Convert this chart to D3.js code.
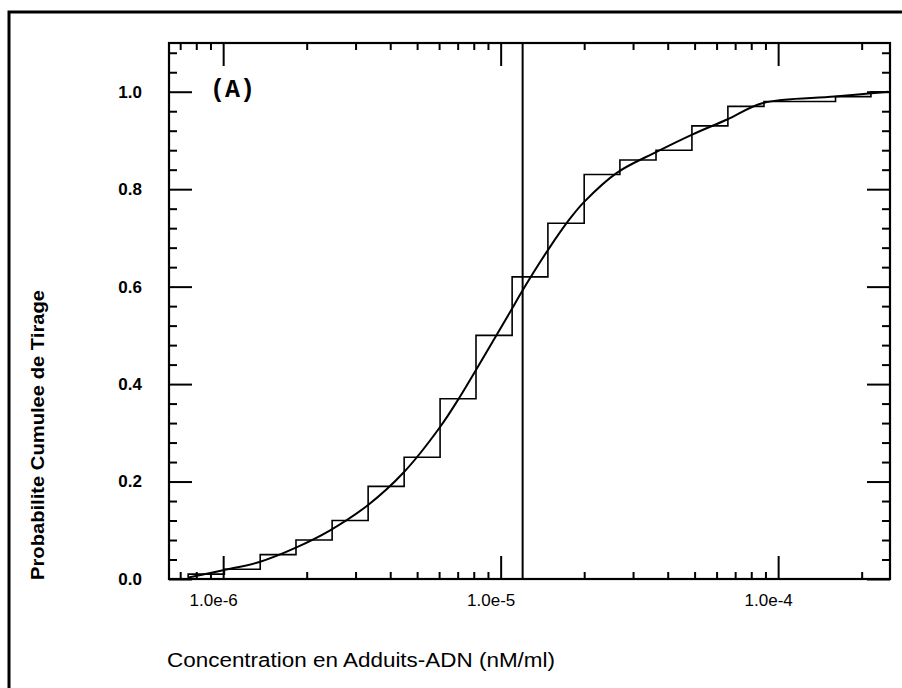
<!DOCTYPE html>
<html>
<head>
<meta charset="utf-8">
<script src="https://cdn.jsdelivr.net/npm/d3@7/dist/d3.min.js"></script>
<style>
  html, body { margin: 0; padding: 0; background: #fff; }
  svg { display: block; }
</style>
</head>
<body>
<svg id="chart" width="902" height="688"></svg>
<script>
// ---- Data ----
// Empirical cumulative distribution: step edges (concentration) and cumulative probability after each edge
const stepEdges  = [7.48e-7, 1.01e-6, 1.36e-6, 1.83e-6, 2.47e-6, 3.33e-6, 4.49e-6, 6.05e-6, 8.15e-6,
                    1.10e-5, 1.48e-5, 2.00e-5, 2.69e-5, 3.63e-5, 4.89e-5, 6.59e-5, 8.89e-5, 1.61e-4, 2.16e-4];
const stepValues = [0.01, 0.02, 0.05, 0.08, 0.12, 0.19, 0.25, 0.37, 0.50,
                    0.62, 0.73, 0.83, 0.86, 0.88, 0.93, 0.97, 0.98, 0.99, 1.00];
// Fitted smooth cumulative curve
const curveX = [7.5e-7, 1.0e-6, 1.35e-6, 1.82e-6, 2.43e-6, 3.33e-6, 4.46e-6, 6.05e-6, 7.15e-6, 8.09e-6,
                1.10e-5, 1.17e-5, 1.48e-5, 1.78e-5, 2.0e-5, 2.63e-5, 3.66e-5, 4.90e-5, 6.55e-5, 8.83e-5,
                1.60e-4, 2.49e-4];
const curveY = [0.003, 0.018, 0.035, 0.064, 0.10, 0.152, 0.218, 0.312, 0.375, 0.426,
                0.555, 0.582, 0.675, 0.740, 0.774, 0.834, 0.877, 0.912, 0.943, 0.977,
                0.99, 1.0];
// Vertical reference line (concentration)
const refLineX = [1.2e-5];
// Axes
const xDomain = [6.38e-7, 2.53e-4];
const yDomain = [0, 1.1];
const xMajorTicks = [1e-6, 1e-5, 1e-4];
const xMinorTicks = [7e-7, 8e-7, 9e-7, 2e-6, 3e-6, 4e-6, 5e-6, 6e-6, 7e-6, 8e-6, 9e-6,
                     2e-5, 3e-5, 4e-5, 5e-5, 6e-5, 7e-5, 8e-5, 9e-5, 2e-4];
const yMajorTicks = [0.0, 0.2, 0.4, 0.6, 0.8, 1.0];
const yMinorTicks = [0.04, 0.08, 0.12, 0.16, 0.24, 0.28, 0.32, 0.36, 0.44, 0.48, 0.52, 0.56,
                     0.64, 0.68, 0.72, 0.76, 0.84, 0.88, 0.92, 0.96, 1.04, 1.08];
const panelLabel = "(A)";
const xTitle = "Concentration en Adduits-ADN  (nM/ml)";
const yTitle = "Probabilite Cumulee de Tirage";

// ---- Layout ----
const plot = { left: 169, right: 890, top: 43, bottom: 579 };
const svg = d3.select("#chart");

const x = d3.scaleLog().domain(xDomain).range([plot.left, plot.right]);
const y = d3.scaleLinear().domain(yDomain).range([plot.bottom, plot.top]);

// Outer figure border (scan frame)
svg.append("rect")
  .attr("x", 9).attr("y", 12)
  .attr("width", 1000).attr("height", 1000)
  .attr("fill", "none").attr("stroke", "#000").attr("stroke-width", 3);

const fmtX = d => "1.0e" + Math.round(Math.log10(d));
const fmtY = d3.format(".1f");

function styleAxis(g) {
  g.select(".domain").remove();
  g.selectAll("line").attr("stroke", "#000").attr("stroke-width", 2);
}

// Bottom axis
svg.append("g").attr("transform", `translate(0,${plot.bottom})`)
  .call(d3.axisBottom(x).tickValues(xMinorTicks).tickSize(-7).tickFormat(""))
  .call(styleAxis);
const xMaj = svg.append("g").attr("transform", `translate(0,${plot.bottom})`)
  .call(d3.axisBottom(x).tickValues(xMajorTicks).tickSize(-23).tickPadding(15).tickFormat(fmtX))
  .call(styleAxis);
xMaj.selectAll("text")
  .attr("dx", -10)
  .attr("font-family", "'Liberation Sans', Arial, sans-serif")
  .attr("font-size", 17).attr("fill", "#000");

// Top axis
svg.append("g").attr("transform", `translate(0,${plot.top})`)
  .call(d3.axisTop(x).tickValues(xMinorTicks).tickSize(-7).tickFormat(""))
  .call(styleAxis);
svg.append("g").attr("transform", `translate(0,${plot.top})`)
  .call(d3.axisTop(x).tickValues(xMajorTicks).tickSize(-23).tickFormat(""))
  .call(styleAxis);

// Left axis
svg.append("g").attr("transform", `translate(${plot.left},0)`)
  .call(d3.axisLeft(y).tickValues(yMinorTicks).tickSize(-8).tickFormat(""))
  .call(styleAxis);
const yMaj = svg.append("g").attr("transform", `translate(${plot.left},0)`)
  .call(d3.axisLeft(y).tickValues(yMajorTicks).tickSize(-23).tickPadding(27).tickFormat(fmtY))
  .call(styleAxis);
yMaj.selectAll("text")
  .attr("font-family", "'Liberation Sans', Arial, sans-serif")
  .attr("font-weight", "bold")
  .attr("font-size", 17).attr("fill", "#000");

// Right axis
svg.append("g").attr("transform", `translate(${plot.right},0)`)
  .call(d3.axisRight(y).tickValues(yMinorTicks).tickSize(-8).tickFormat(""))
  .call(styleAxis);
svg.append("g").attr("transform", `translate(${plot.right},0)`)
  .call(d3.axisRight(y).tickValues(yMajorTicks).tickSize(-23).tickFormat(""))
  .call(styleAxis);

// Plot frame
svg.append("rect")
  .attr("x", plot.left).attr("y", plot.top)
  .attr("width", plot.right - plot.left).attr("height", plot.bottom - plot.top)
  .attr("fill", "none").attr("stroke", "#000").attr("stroke-width", 2.2);

// Vertical reference line
svg.selectAll("line.ref").data(refLineX).join("line")
  .attr("class", "ref")
  .attr("x1", d => x(d)).attr("x2", d => x(d))
  .attr("y1", plot.top).attr("y2", plot.bottom)
  .attr("stroke", "#000").attr("stroke-width", 2);

// Step function (empirical CDF)
const stepPts = [[stepEdges[0], 0]]
  .concat(stepEdges.map((e, i) => [e, stepValues[i]]))
  .concat([[xDomain[1], stepValues[stepValues.length - 1]]]);
svg.append("path")
  .datum(stepPts)
  .attr("fill", "none").attr("stroke", "#000").attr("stroke-width", 1.6)
  .attr("d", d3.line().x(d => x(d[0])).y(d => y(d[1])).curve(d3.curveStepAfter));

// Smooth fitted curve
const curvePts = curveX.map((v, i) => [v, curveY[i]]);
svg.append("path")
  .datum(curvePts)
  .attr("fill", "none").attr("stroke", "#000").attr("stroke-width", 2)
  .attr("d", d3.line().x(d => x(d[0])).y(d => y(d[1])).curve(d3.curveCatmullRom.alpha(0.5)));

// Panel label
svg.append("text")
  .attr("x", 210).attr("y", 97)
  .attr("font-family", "'Liberation Mono', 'Courier New', monospace")
  .attr("font-weight", "bold").attr("font-size", 25)
  .attr("fill", "#000")
  .text(panelLabel);

// Axis titles
svg.append("text")
  .attr("x", 167).attr("y", 667)
  .attr("font-family", "'Liberation Sans', Arial, sans-serif")
  .attr("font-size", 20).attr("fill", "#000")
  .attr("textLength", 388).attr("lengthAdjust", "spacingAndGlyphs")
  .text(xTitle);

svg.append("text")
  .attr("transform", "translate(44,580) rotate(-90)")
  .attr("x", 0).attr("y", 0)
  .attr("font-family", "'Liberation Sans', Arial, sans-serif")
  .attr("font-weight", "bold").attr("font-size", 18).attr("fill", "#000")
  .attr("textLength", 290).attr("lengthAdjust", "spacingAndGlyphs")
  .text(yTitle);
</script>
</body>
</html>
